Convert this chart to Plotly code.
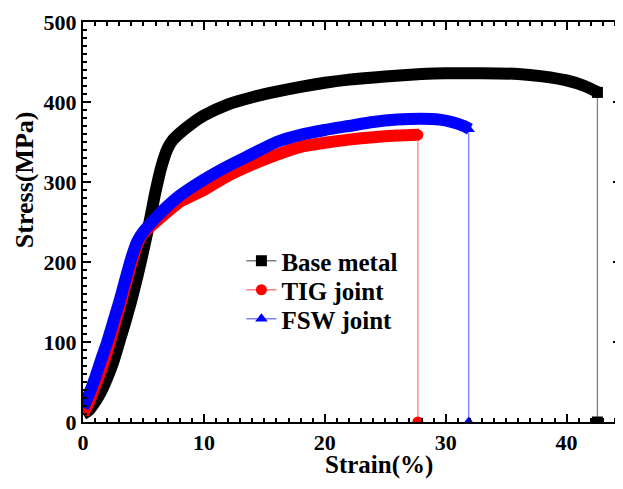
import plotly.graph_objects as go

# ---- data ----
base_strain = [0, 0.5, 1, 1.5, 2, 2.5, 3, 3.5, 4, 4.5, 5, 5.5, 6, 6.5, 7, 7.4, 8, 9, 10,
               12, 14, 16, 18, 20, 22, 25, 28, 30, 33, 36, 38, 40, 41.5, 42.6]
base_stress = [10, 15, 25, 38, 55, 75, 100, 125, 152, 182, 215, 250, 288, 320, 342, 352, 361,
               373, 383, 397, 406, 413, 419, 424, 428, 432, 435, 436, 436, 435, 432, 427, 420, 412]

tig_strain = [0, 0.5, 1, 1.5, 2, 2.5, 3, 3.5, 4, 4.5, 5, 6, 7, 8, 10, 12, 14, 16, 18, 20,
              22, 24, 26, 27.8]
tig_stress = [10, 25, 45, 65, 88, 115, 142, 170, 198, 222, 236, 250, 263, 275, 290, 308, 322,
              334, 344, 349, 353, 356, 358, 359]

fsw_strain = [0, 0.5, 1, 1.5, 2, 2.5, 3, 3.5, 4, 4.5, 5, 6, 7, 8, 10, 12, 14, 16, 18, 20,
              22, 24, 26, 28, 29.5, 30.5, 31.5, 32]
fsw_stress = [18, 35, 55, 78, 100, 125, 150, 178, 205, 226, 238, 255, 270, 283, 303, 320, 335,
              350, 359, 365, 370, 375, 378, 379, 378, 375, 370, 366]

# fracture drop lines
names = ["Base metal", "TIG joint", "FSW joint"]
drop_strain = [42.55, 27.7, 31.9]
drop_top = [412, 359, 366]
drop_bottom = [0, 0, 0]

# ---- styles ----
curve_colors = ["#000000", "#ff0000", "#0000ff"]
drop_colors = ["#7f7f7f", "#ff7f7f", "#7f7fff"]
symbols = ["square", "circle", "triangle-up"]
FONT = "Liberation Serif"

# page body has an 8px margin; the figure is sized so no scrollbars appear
W, H = 615, 473
L, R, T, B = 75, 0, 14, 59
pw, ph = W - L - R, H - T - B

fig = go.Figure()
curves = [(base_strain, base_stress), (tig_strain, tig_stress), (fsw_strain, fsw_stress)]
for (xs, ys), c in zip(curves, curve_colors):
    fig.add_trace(go.Scatter(x=xs, y=ys, mode="lines", showlegend=False,
                             line=dict(color=c, width=12, shape="spline", smoothing=0.6),
                             hoverinfo="skip"))

legend_ids = ["legend", "legend2", "legend3"]
for i in range(3):
    fig.add_trace(go.Scatter(
        x=[drop_strain[i], drop_strain[i]], y=[drop_top[i], drop_bottom[i]],
        mode="lines+markers", name=names[i], legend=legend_ids[i],
        line=dict(color=drop_colors[i], width=1.3),
        marker=dict(symbol=symbols[i], size=11, color=curve_colors[i]),
    ))

axis_common = dict(
    showline=True, linecolor="black", linewidth=2, mirror="ticks",
    ticks="inside", ticklen=8, tickwidth=2, tickcolor="black",
    showgrid=False, zeroline=False,
    tickfont=dict(family=FONT, size=22, color="black", weight="bold"),
)

legend_font = dict(family=FONT, size=25, color="black", weight="bold")
legend_x = (234 - L) / pw
first_top = 230  # figure pixel of first legend's top
legends = {}
for k, lid in enumerate(legend_ids):
    top_px = first_top + 29 * k
    legends[lid] = dict(x=legend_x, y=(H - B - top_px) / ph, xanchor="left", yanchor="top",
                        bgcolor="rgba(0,0,0,0)", font=legend_font)

fig.update_layout(
    width=W, height=H,
    margin=dict(l=L, r=R, t=T, b=B),
    paper_bgcolor="white", plot_bgcolor="white",
    xaxis=dict(range=[0, 44.5], dtick=10, tick0=0,
               minor=dict(dtick=1, ticks="inside", ticklen=4, tickwidth=1.5, tickcolor="black"),
               **axis_common),
    yaxis=dict(range=[0, 500], dtick=100, tick0=0,
               minor=dict(dtick=10, ticks="inside", ticklen=4, tickwidth=1.5, tickcolor="black"),
               **axis_common),
    showlegend=True,
    **legends,
)

# axis titles placed as annotations (figure pixels -> paper coordinates)
fig.add_annotation(text="Strain(%)", x=(372 - L) / pw, y=(H - B - H) / ph,
                   xref="paper", yref="paper", xanchor="center", yanchor="bottom",
                   showarrow=False,
                   font=dict(family=FONT, size=25, color="black", weight="bold"))
fig.add_annotation(text="Stress(MPa)", x=(16 - L) / pw, y=(H - B - 172) / ph,
                   xref="paper", yref="paper", xanchor="center", yanchor="middle",
                   textangle=-90, showarrow=False,
                   font=dict(family=FONT, size=26, color="black", weight="bold"))

fig.write_html("out.html")
